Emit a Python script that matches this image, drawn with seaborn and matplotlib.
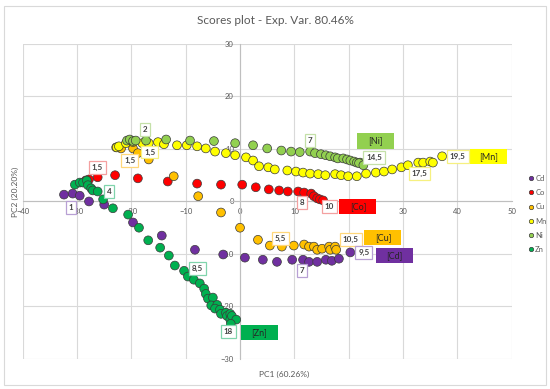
import pandas as pd
import matplotlib.pyplot as plt
import seaborn as sns
from matplotlib.patches import Rectangle

# PC scores, one series per metal
cd_x = [-32.4, -30.8, -29.5, -27.8, -25.0, -19.7, -14.4, -8.3, -3.1, 0.9, 4.2, 6.8, 9.6, 11.6, 12.7, 14.2, 15.8, 16.9, 18.2, 20.3]
cd_y = [1.3, 1.5, 1.1, 0.0, -0.6, -4.0, -6.5, -9.2, -10.1, -10.7, -11.1, -11.5, -11.1, -11.1, -11.5, -11.5, -11.1, -11.3, -10.9, -9.7]
co_x = [-28.4, -27.8, -26.2, -23.0, -18.8, -13.3, -7.9, -3.5, 0.4, 2.9, 5.3, 7.2, 8.8, 10.7, 11.8, 13.1, 13.6, 14.2, 14.7, 15.3]
co_y = [4.0, 4.2, 4.6, 5.0, 4.4, 3.8, 3.4, 3.2, 3.2, 2.7, 2.3, 2.1, 1.9, 1.9, 1.7, 1.5, 1.0, 0.6, 0.4, 0.2]
cu_x = [-22.8, -21.9, -19.7, -18.8, -16.8, -12.2, -7.7, -3.5, 0.0, 3.3, 5.5, 7.7, 9.9, 11.8, 12.7, 13.6, 14.2, 15.1, 16.4, 16.6, 17.5, 17.7]
cu_y = [10.3, 10.1, 10.1, 9.2, 8.0, 4.8, 1.0, -2.1, -5.0, -7.3, -8.4, -8.6, -8.4, -8.2, -8.6, -8.6, -9.2, -9.0, -8.6, -9.2, -8.6, -9.2]
mn_x = [-22.7, -22.3, -21.0, -19.7, -18.0, -16.8, -15.1, -14.0, -11.6, -9.8, -7.9, -6.3, -4.6, -2.6, -0.9, 1.1, 2.4, 3.5, 5.2, 6.4,
        8.7, 10.3, 11.6, 12.9, 14.4, 15.7, 17.5, 18.6, 19.9, 21.5, 23.2, 25.0, 26.5, 28.0, 29.7, 30.9, 32.8, 33.7, 35.0, 35.5, 37.2]
mn_y = [10.3, 10.5, 11.1, 11.3, 11.1, 11.1, 11.3, 10.9, 10.7, 10.7, 10.5, 10.1, 9.5, 9.2, 8.8, 8.4, 7.8, 6.7, 6.5, 6.1,
        5.9, 5.7, 5.5, 5.3, 5.2, 5.0, 5.2, 5.0, 4.8, 4.8, 5.3, 5.5, 5.7, 6.1, 6.5, 6.9, 7.4, 7.4, 7.6, 7.4, 8.6]
ni_x = [-20.8, -20.3, -19.7, -19.2, -17.3, -13.6, -9.2, -4.8, -0.9, 2.4, 5.0, 7.6, 9.4, 11.0, 12.9, 13.8, 14.9, 15.8, 16.6,
        17.5, 18.0, 19.0, 19.7, 20.3, 21.0, 21.5, 22.1, 21.9, 22.7]
ni_y = [11.6, 11.8, 11.5, 11.6, 11.6, 11.8, 11.6, 11.5, 11.1, 10.7, 10.1, 9.7, 9.5, 9.4, 9.5, 9.2, 9.0, 8.8, 8.6,
        8.4, 8.2, 8.2, 8.0, 7.8, 7.6, 7.4, 7.4, 7.3, 6.9]
zn_x = [-30.4, -29.5, -28.9, -28.2, -28.0, -27.4, -27.1, -26.2, -25.2, -23.4, -20.6, -18.6, -16.9, -14.7, -13.1, -12.0, -10.3, -9.6,
        -8.5, -7.4, -6.6, -6.3, -5.9, -5.0, -5.3, -4.2, -4.6, -3.7, -3.5, -2.6, -2.4, -1.8, -1.8, -1.5, -0.7, -1.7]
zn_y = [3.2, 3.6, 3.6, 4.0, 3.1, 2.5, 2.1, 1.9, 0.4, -1.3, -2.5, -5.0, -7.4, -8.8, -10.3, -12.2, -13.2, -14.3,
        -14.9, -15.6, -16.6, -17.6, -18.5, -18.3, -19.8, -19.7, -20.4, -20.6, -21.4, -21.2, -21.8, -21.4, -22.5, -21.8, -22.5, -23.3]

metals = ["Cd", "Co", "Cu", "Mn", "Ni", "Zn"]
colors = {"Cd": "#7030A0", "Co": "#FF0000", "Cu": "#FFC000", "Mn": "#FFFF00", "Ni": "#92D050", "Zn": "#00B050"}
light = {"Cd": "#B8A0D4", "Co": "#F4A0A0", "Cu": "#FFD77A", "Mn": "#F6F080", "Ni": "#C4E0A8", "Zn": "#80D4AC"}

# value labels (text, x, y, series) and series name tags
point_labels = [("1", -31.1, -1.1, "Cd"), ("1,5", -26.3, 6.5, "Co"), ("4", -24.1, 1.9, "Zn"),
                ("2", -17.5, 13.7, "Ni"), ("1,5", -20.3, 7.8, "Cu"), ("1,5", -16.6, 9.4, "Mn"),
                ("7", 12.9, 11.6, "Ni"), ("14,5", 24.7, 8.4, "Ni"), ("17,5", 33.0, 5.3, "Mn"),
                ("19,5", 40.1, 8.6, "Mn"), ("8", 11.4, -0.2, "Co"), ("10", 16.4, -1.0, "Co"),
                ("5,5", 7.4, -7.1, "Cu"), ("10,5", 20.4, -7.3, "Cu"), ("9,5", 22.8, -9.7, "Cd"),
                ("7", 11.4, -13.2, "Cd"), ("8,5", -7.9, -12.8, "Zn"), ("18", -2.2, -24.8, "Zn")]
name_tags = [("[Ni]", 25.0, 11.5, "Ni"), ("[Mn]", 45.7, 8.6, "Mn"), ("[Co]", 21.7, -1.0, "Co"),
             ("[Cu]", 26.3, -6.9, "Cu"), ("[Cd]", 28.4, -10.3, "Cd"), ("[Zn]", 3.5, -25.0, "Zn")]

xs = [cd_x, co_x, cu_x, mn_x, ni_x, zn_x]
ys = [cd_y, co_y, cu_y, mn_y, ni_y, zn_y]
df = pd.concat([pd.DataFrame({"PC1": x, "PC2": y, "metal": m}) for m, x, y in zip(metals, xs, ys)])

sns.set_style("white")
plt.rcParams['font.family'] = ['Lato', 'DejaVu Sans']

fig = plt.figure(figsize=(5.5, 3.89), dpi=100)
ax = fig.add_axes([0.0413, 0.0771, 0.889, 0.81])
sns.scatterplot(data=df, x="PC1", y="PC2", hue="metal", palette=colors, s=40,
                edgecolor="#3A3A3A", linewidth=0.5, ax=ax, zorder=3)

ax.set_xlim(-40, 50)
ax.set_ylim(-30, 30)
ax.set_xticks(range(-40, 51, 10))
ax.set_yticks(range(-30, 31, 10))
ax.grid(True, color="#D9D9D9", linewidth=0.8)
for s in ["top", "right"]:
    ax.spines[s].set_visible(False)
ax.spines["left"].set_position(("data", 0))
ax.spines["bottom"].set_position(("data", 0))
for s in ["left", "bottom"]:
    ax.spines[s].set_color("#BFBFBF")
    ax.spines[s].set_linewidth(0.8)
ax.tick_params(labelsize=5.5, labelcolor="#595959", color="#BFBFBF", length=3, width=0.8, pad=1.5)
ax.set_xlabel("")
ax.set_ylabel("")

for txt, x, y, m in point_labels:
    ax.text(x, y, txt, ha="center", va="center", fontsize=5.8, fontweight="bold", color="#404040", zorder=5,
            bbox=dict(boxstyle="square,pad=0.35", fc="white", ec=light[m], lw=0.9))
for txt, x, y, m in name_tags:
    ax.add_patch(Rectangle((x - 3.4, y - 1.45), 6.8, 2.9, fc=colors[m], ec="none", zorder=4))
    ax.text(x, y, txt, ha="center", va="center", fontsize=6.5, color="#262626", zorder=5)

handles, labels = ax.get_legend_handles_labels()
ax.legend(handles, labels, loc="center left", bbox_to_anchor=(0.953, 0.45), bbox_transform=fig.transFigure,
          frameon=False, fontsize=5.5, labelcolor="#595959", markerscale=0.5, handletextpad=0.05,
          labelspacing=0.95, handlelength=1.0, borderaxespad=0)

fig.text(0.5, 0.948, "Scores plot - Exp. Var. 80.46%", ha="center", va="center", fontsize=8.5, color="#595959")
fig.text(0.516, 0.038, "PC1 (60.26%)", ha="center", va="center", fontsize=6, color="#595959")
fig.text(0.028, 0.506, "PC2 (20.20%)", ha="center", va="center", rotation=90, fontsize=6, color="#595959")
fig.patches.append(Rectangle((0.008, 0.01), 0.984, 0.975, transform=fig.transFigure, fill=False,
                             ec="#D9D9D9", lw=0.8))

fig.savefig("out.png", dpi=100)
